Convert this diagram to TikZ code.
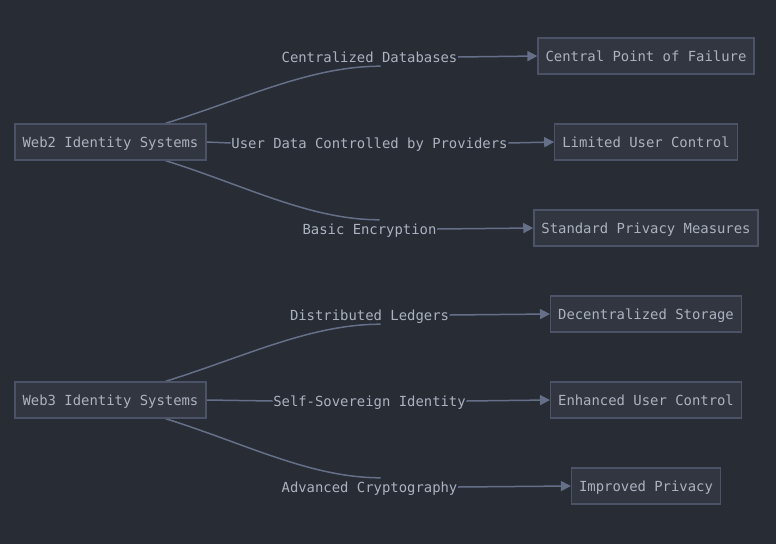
\documentclass[tikz,border=0pt]{standalone}
\usepackage{fontspec}
\setmonofont{DejaVu Sans Mono}
\usepackage{xcolor}
\usepackage{tikz}
\usetikzlibrary{arrows.meta,backgrounds}
\definecolor{bgdark}{HTML}{282C34}
\definecolor{boxfill}{HTML}{323641}
\definecolor{boxline}{HTML}{4C5366}
\definecolor{edgeline}{HTML}{666F88}
\definecolor{labtext}{HTML}{ABB2BF}

\begin{document}
\begin{tikzpicture}[
  x=1pt, y=-1pt,
  font=\ttfamily\fontsize{13.9}{16}\selectfont,
  sysbox/.style={rectangle, draw=boxline, line width=1.3pt, fill=boxfill, text=labtext,
                 minimum height=36pt, inner xsep=7.5pt, inner ysep=0pt,
                 text height=11.5pt, text depth=0.5pt},
  outbox/.style={sysbox},
  lab/.style={text=labtext, inner xsep=0.5pt, inner ysep=3pt, text height=11.5pt, text depth=0.5pt},
  edge/.style={draw=edgeline, line width=1.5pt},
  arr/.style={edge, -{Triangle[length=10pt, width=10pt]}},
]
\useasboundingbox (0,0) rectangle (776,544);
% source systems
\node[sysbox] (web2) at (110.5,142) {Web2 Identity Systems};
\node[sysbox] (web3) at (110.5,400) {Web3 Identity Systems};
% outcomes (right column)
\node[outbox] (fail)  at (646,56)  {Central Point of Failure};
\node[outbox] (luc)   at (646,142) {Limited User Control};
\node[outbox] (spm)   at (646,228) {Standard Privacy Measures};
\node[outbox] (dstor) at (646,314) {Decentralized Storage};
\node[outbox] (euc)   at (646,400) {Enhanced User Control};
\node[outbox] (ipriv) at (646,486) {Improved Privacy};
% edge labels
\node[lab] (l1) at (369.5,57)  {Centralized Databases};
\node[lab] (l2) at (369.5,143) {User Data Controlled by Providers};
\node[lab] (l3) at (369.5,229) {Basic Encryption};
\node[lab] (l4) at (369.5,315) {Distributed Ledgers};
\node[lab] (l5) at (369.5,401) {Self-Sovereign Identity};
\node[lab] (l6) at (369.5,487) {Advanced Cryptography};
\begin{scope}[on background layer]
  \fill[bgdark] (0,0) rectangle (776,544);
  % web2 branch
  \draw[edge] ([xshift=-41pt]web2.north east) .. controls +(80,-25) and +(-70,0) .. ([xshift=11pt]l1.south);
  \draw[arr] (l1.east) -- (fail.west);
  \draw[edge] (web2.east) -- (l2.west);
  \draw[arr] (l2.east) -- (luc.west);
  \draw[edge] ([xshift=-41pt]web2.south east) .. controls +(80,25) and +(-70,0) .. ([xshift=10pt]l3.north);
  \draw[arr] (l3.east) -- (spm.west);
  % web3 branch
  \draw[edge] ([xshift=-41pt]web3.north east) .. controls +(80,-25) and +(-70,0) .. ([xshift=11pt]l4.south);
  \draw[arr] (l4.east) -- (dstor.west);
  \draw[edge] (web3.east) -- (l5.west);
  \draw[arr] (l5.east) -- (euc.west);
  \draw[edge] ([xshift=-41pt]web3.south east) .. controls +(80,25) and +(-70,0) .. ([xshift=11pt]l6.north);
  \draw[arr] (l6.east) -- (ipriv.west);
\end{scope}
\end{tikzpicture}
\end{document}
